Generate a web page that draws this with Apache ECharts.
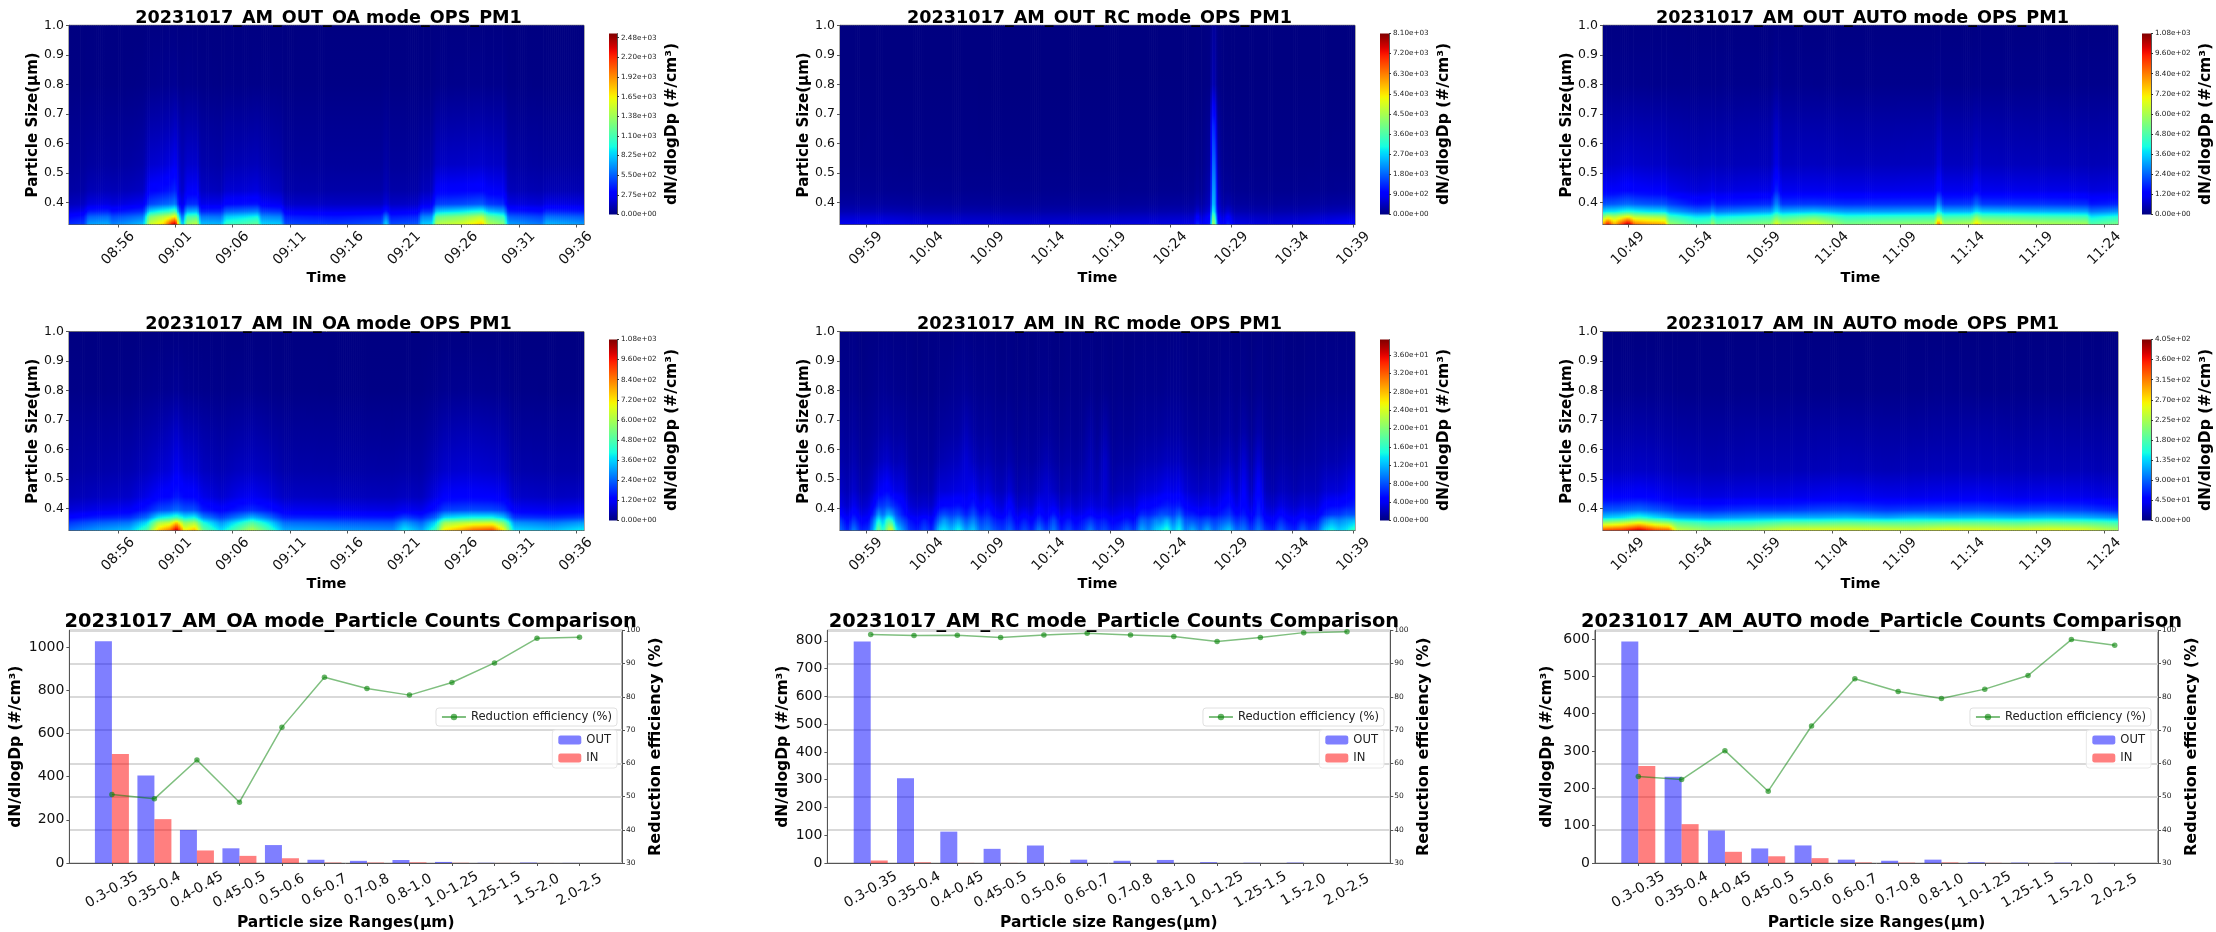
<!DOCTYPE html>
<html><head><meta charset="utf-8">
<style>html,body{margin:0;padding:0;background:#fff}#c{width:2216px;height:932px;filter:blur(0.45px)}</style>
<script src="https://cdn.jsdelivr.net/npm/echarts@6/dist/echarts.min.js"></script>
</head><body><div id="c"></div>
<script>
// ---------- data ----------
const sizes=[0.326,0.352,0.37,0.395,0.44,0.53,0.66,0.8,1.0];
const rcInSizes=[0.326,0.36,0.38,0.41,0.46,0.56,0.66,0.8,1.0];
const sizeTicks=[0.4,0.5,0.6,0.7,0.8,0.9,1.0];
const ranges=['0.3-0.35','0.35-0.4','0.4-0.45','0.45-0.5','0.5-0.6','0.6-0.7','0.7-0.8','0.8-1.0','1.0-1.25','1.25-1.5','1.5-2.0','2.0-2.5'];
const oaTimeTicks=[536,541,546,551,556,561,566,571,576];
const rcTimeTicks=[599,604,609,614,619,624,629,634,639];
const autoTimeTicks=[649,654,659,664,669,674,679,684];
// columns: [minutes past the hour base, value at each entry of sizes]
const oaOutCols=[
[51.7,420,320,220,130,80,55,35,12,4],[53,470,360,250,150,90,60,38,12,4],[53.4,720,560,380,210,120,70,42,15,4],[55.1,750,590,400,220,125,75,45,15,5],[55.5,640,500,340,200,120,70,45,15,5],[57,720,560,390,230,130,80,50,16,5],[58.2,800,620,430,260,150,95,60,20,5],[58.7,1500,1250,850,480,300,170,100,30,8],[60,1750,1450,1000,560,340,190,110,35,8],[60.6,2250,1550,1050,590,370,220,120,40,10],[61,2480,1700,1150,640,420,260,150,45,10],[61.3,1500,1000,620,340,230,170,110,30,8],[61.6,700,520,350,220,150,120,80,25,6],[62,1350,1100,750,420,270,170,100,30,8],[62.9,1500,1150,780,430,280,170,95,25,6],[63.2,800,620,400,240,150,100,65,20,5],[65,780,600,410,240,130,85,55,15,4],[65.4,1050,820,560,320,180,110,70,20,5],[67,1120,880,600,340,190,120,70,20,5],[68.2,1200,950,640,360,210,130,80,22,5],[68.5,850,670,470,280,170,110,70,20,5],[70.2,830,640,440,250,140,90,55,18,5],[70.6,500,390,270,160,95,65,40,14,4],[75,460,360,250,150,90,60,40,15,4],[79,520,400,270,150,90,60,40,15,4],[79.4,900,650,400,210,130,90,55,18,4],[79.8,500,380,260,150,90,60,40,15,4],[82.2,540,410,280,160,90,60,38,14,4],[82.5,820,640,430,240,130,80,48,15,4],[83.4,850,660,440,250,140,85,50,16,4],[83.8,1450,1200,820,470,290,150,90,25,6],[86,1550,1300,900,500,300,160,95,28,6],[87.8,1780,1450,1000,540,320,170,100,30,6],[88.3,1450,1200,820,460,280,160,95,28,6],[89.7,1300,1050,720,420,260,150,90,28,6],[90.1,720,560,380,220,130,85,52,16,4],[93,620,480,330,190,110,70,45,15,4],[93.4,780,600,410,230,120,70,42,14,4],[96.7,700,540,370,210,115,70,42,14,4]];
const rcOutCols=[
[56.87,800,560,360,230,130,75,45,14,5],[60,820,580,380,240,135,80,50,15,5],[64,650,470,310,200,120,75,45,14,5],[68,620,450,300,190,115,70,42,14,5],[72,580,420,280,180,110,70,40,13,5],[76,620,440,290,190,115,70,42,14,5],[80,650,460,300,190,115,72,45,14,5],[84,700,500,330,210,120,75,45,14,5],[85.9,750,520,340,220,130,80,50,20,8],[86.2,1400,1000,600,350,200,120,70,25,12],[86.5,800,560,360,230,130,80,50,20,8],[87.25,1200,1000,700,500,380,250,170,50,25],[87.4,4500,3800,3100,2600,2300,1900,1400,400,180],[87.65,4000,3300,2600,2300,2200,1800,1200,300,200],[87.85,1300,1000,750,600,450,300,200,70,50],[88.3,850,600,400,260,170,110,70,25,12],[88.7,1300,950,600,340,190,110,60,20,8],[89.2,750,520,340,220,130,80,50,16,5],[92,620,450,300,190,115,72,45,14,5],[95,700,500,330,210,120,75,45,14,5],[99.12,950,650,420,260,140,85,50,15,5]];
const autoOutCols=[
[47.16,800,560,360,220,120,65,42,14,4],[47.5,980,640,380,225,120,65,42,14,4],[48,780,600,380,230,120,68,42,14,4],[49,1060,700,420,250,135,75,45,14,4],[49.5,860,620,400,235,125,70,44,14,4],[50.5,820,600,380,225,118,66,42,13,4],[51.7,800,580,370,220,118,66,42,13,4],[52,590,460,320,200,105,58,38,13,4],[54,480,380,250,150,85,50,33,12,3],[55,500,390,260,160,90,52,34,12,3],[55.2,600,440,300,190,100,55,35,12,3],[55.5,500,390,260,160,90,52,34,12,3],[59.5,560,440,300,180,100,55,38,13,3],[59.9,700,520,380,290,180,100,70,22,5],[60.3,590,460,320,190,105,58,40,14,3],[62.7,680,510,340,195,105,60,40,13,3],[65,540,430,300,180,100,55,36,12,3],[68,560,440,300,185,100,55,36,12,3],[71.5,580,450,310,190,105,58,38,12,3],[71.8,880,600,420,300,150,90,55,16,4],[72.2,590,460,320,190,105,58,38,12,3],[74.2,620,470,320,195,105,58,38,12,3],[74.6,760,560,380,250,135,75,46,14,4],[75,640,490,340,195,105,58,38,12,3],[79,610,470,320,190,100,55,35,12,3],[82.7,600,460,310,180,95,52,34,12,3],[83,490,380,260,155,88,50,33,12,3],[85,540,420,290,170,92,52,34,12,3]];
const oaInCols=[
[51.7,250,190,130,85,50,33,22,8,2],[54,300,230,160,100,60,38,25,9,2],[57,340,260,180,115,70,45,28,10,2],[58.5,480,370,250,160,100,60,38,14,3],[59.5,750,600,380,210,125,75,45,16,3],[60.5,850,640,420,225,135,85,55,18,3],[61.1,1040,760,460,250,160,110,70,22,4],[61.8,700,560,380,220,135,85,50,16,3],[62.7,780,600,400,220,130,80,48,14,3],[63.4,520,420,280,160,100,60,38,12,3],[65,370,290,200,125,75,48,30,10,2],[66.5,510,400,270,160,100,60,36,12,2],[67.7,620,490,330,180,110,65,40,13,2],[69.2,470,370,250,150,90,55,32,10,2],[70.5,320,250,170,110,65,40,25,8,2],[76,300,230,160,100,58,36,22,7,2],[80,290,225,155,95,55,35,20,6,2],[81,390,300,200,110,62,38,22,7,2],[82.5,310,240,165,100,58,36,22,7,2],[83.7,460,360,240,150,95,58,34,12,2],[84.5,720,580,360,200,120,72,45,16,3],[86,800,620,390,210,125,78,50,17,3],[87,870,640,400,215,125,78,50,17,3],[88.7,910,650,400,210,120,72,45,15,3],[89.7,700,540,340,190,110,65,40,14,3],[90.6,370,290,190,115,70,42,26,9,2],[94,340,260,175,105,62,38,24,8,2],[96.7,390,300,195,115,65,38,24,8,2]];
const rcInCols=[
[56.87,9,7,5,3.5,2.5,1.5,1,.5,.2],[57.5,6,4.5,3.5,2.5,1.8,1.2,.8,.4,.2],[58,10,7,5.5,4,2.8,1.8,1.2,.6,.3],[58.6,6,4.5,3.5,2.5,1.6,1,.7,.3,.1],[59.2,7,5,4,3,2,1.2,.8,.4,.2],[59.7,13,10,7,5,3,1.6,1,.5,.2],[60,20,15,11,7,4,2,1.2,.6,.2],[60.4,15,12,9,7,4.5,2.4,1.4,.7,.3],[60.8,22,17,12,8,5,2.6,1.5,.6,.3],[61.1,25,16,11,7,4,2,1.2,.6,.2],[61.5,14,10,8,6,3.5,1.8,1.1,.5,.2],[62,11,8,6,5,3.5,2,1.2,.5,.2],[62.6,7,5.5,4,3,2,1.2,.8,.4,.2],[63.2,6,4.5,3.5,2.5,1.6,1,.8,.3,.1],[63.8,8,6,4,2.8,1.8,1.2,.8,.4,.2],[64.4,6,4.5,3.5,2.5,1.6,1,.7,.3,.2],[65,13,9,7,4.5,3,1.6,1,.5,.2],[65.4,14,11,8,5,3,1.8,1.1,.5,.2],[66,12,9,7,5,3.2,2,1.2,.6,.2],[66.6,15,11,8,5.5,3.5,2.2,1.3,.7,.3],[67.2,11,8,6,4.5,3.5,3,2,.8,.3],[67.8,13,10,8,6,4,2.2,1.3,.6,.2],[68.4,9,7,5.5,4,2.8,1.6,1,.5,.2],[69,10,8,6.5,5,3.2,1.8,1.1,.5,.2],[69.6,8,6,4.5,3.5,2.2,1.3,.8,.4,.2],[70.2,7,5.5,4,3,2,1.2,.8,.3,.1],[70.8,9,7,6,5,3,1.6,.9,.4,.2],[71.4,6,4.5,3.5,2.5,1.6,1,.6,.3,.1],[72,8,6,4.5,3,2,1.2,.8,.4,.2],[72.6,6,4.5,3.5,2.6,1.8,1,.7,.3,.1],[73.2,10,7,5.5,4,2.4,1.3,.8,.4,.2],[73.8,7,5,4,3.5,3,1.8,1,.5,.2],[74.4,10,8,6,4,2.4,1.3,.8,.3,.1],[75,6,4.5,3.5,2.5,1.6,1,.6,.3,.1],[75.6,8,6,4.5,3.2,2,1.2,.8,.4,.2],[76.2,6,4.5,3.5,2.5,1.6,1,.6,.3,.1],[76.8,7,5.5,4,3,2.2,1.3,.8,.4,.2],[77.4,10,7,5,3.5,2.4,2,1.4,.5,.2],[78,7,5.5,4,3,2,1.2,.7,.3,.1],[78.6,8,6,4.5,3.2,3,2.6,1.6,.5,.2],[79.2,6,4.5,3.5,2.5,1.6,1,.6,.3,.1],[79.8,7,5,4,3,2,1.2,.8,.4,.2],[80.4,9,6,4.5,3.2,2,1.2,.7,.3,.1],[81,7,5,4,3,2.2,1.3,.8,.4,.2],[81.6,12,9,6.5,4.5,2.8,1.6,1,.5,.2],[82.2,10,8,6,4.5,3,1.7,1,.5,.2],[82.8,13,10,7,5,3.2,1.8,1.1,.5,.2],[83.2,14,10,8,5.5,3.5,1.9,1.1,.5,.2],[83.7,16,12,8,6,4,2.2,1.3,.6,.2],[84.2,12,9,7,5.5,3.6,2,1.2,.6,.2],[84.7,15,12,9,6,4,2.2,1.3,.6,.3],[85.2,10,8,6,4.5,3,1.7,1,.5,.2],[85.8,12,8,6,4,2.6,1.5,.9,.4,.2],[86.4,9,7,5,3.5,2.3,1.3,.8,.4,.2],[87,12,8,5.5,4,2.6,1.5,.9,.4,.2],[87.6,9,7,5,3.5,2.4,1.4,.8,.4,.2],[88.2,11,8,6,4.5,3.2,1.8,1,.5,.2],[88.8,13,9,7,5.5,4,2.2,1.2,.6,.2],[89.4,9,6.5,5,3.5,2.4,1.4,.8,.4,.2],[90,10,7.5,6,5,4.5,3,1.5,.6,.2],[90.6,7,5,4,3,2,1.2,.7,.3,.1],[91.2,10,8,6.5,6,5,3,1.5,.6,.2],[91.8,7,5,4,3,2,1.2,.8,.4,.2],[92.4,6,4.5,3.5,2.5,1.6,1,.6,.3,.1],[93,9,6.5,5,3.5,2.2,1.3,.8,.4,.2],[93.6,7,5,4,3,2,1.2,.7,.3,.1],[94.2,6,4.5,3.5,2.5,1.6,1,.6,.3,.1],[94.8,9,6,4.5,3.2,2,1.2,.7,.3,.1],[95.4,7,5,4,3,2,1.2,.8,.4,.2],[96,8,5.5,4,3,2,1.3,.9,.4,.2],[96.6,13,9,6,4.5,2.8,1.6,1,.5,.2],[97.2,15,11,7,5,3,1.6,1,.5,.2],[97.8,13,10,7,5,3,1.7,1,.5,.2],[98.4,14,11,8,5.5,3.5,2,1.1,.5,.2],[99.12,17,12,8,6,4.5,2.4,1.3,.6,.3]];
const autoInCols=[
[47.16,340,220,130,85,45,24,14,5,1],[48.5,350,235,140,88,45,24,14,5,1],[49.8,385,260,160,95,48,25,15,5,1],[51,340,230,140,85,44,24,14,5,1],[52,330,215,125,78,40,22,13,5,1],[52.6,240,185,115,70,38,20,12,4,1],[55,215,165,105,65,34,18,11,4,1],[58,225,170,115,72,36,19,12,4,1],[60.5,250,185,120,72,36,19,12,4,1],[63,255,185,120,78,40,20,13,4,1],[65,255,190,125,80,42,21,13,4,1],[68,250,185,115,72,38,19,12,4,1],[70,245,185,125,75,38,20,12,4,1],[72.5,260,190,120,78,40,21,13,5,1],[75,255,190,125,80,42,21,14,4,1],[77.5,250,185,120,75,38,20,12,4,1],[80,260,190,125,78,40,20,13,4,1],[82.5,255,185,120,75,38,20,12,4,1],[83.7,240,180,115,70,36,19,12,4,1],[85,225,170,108,62,32,18,11,4,1]];
const oaOut=[1026,405,153,68,83,15,10,14,5,1,2,0.5];
const oaIn=[505,203,58,33,22,2,2,3,1,0.3,0.2,0.1];
const oaEff=[50.6,49.3,61,48.3,70.8,85.9,82.5,80.5,84.3,90.2,97.6,97.9];
const rcOut=[798,305,113,51,63,12,8,11,3,1,1.5,0.3];
const rcIn=[9,2.5,0.5,0.4,0.3,0.1,0.1,0.1,0.1,0,0,0];
const rcEff=[98.7,98.4,98.5,97.8,98.6,99.1,98.6,98.1,96.6,97.8,99.3,99.6];
const autoOut=[593,231,87,39,47,9,6,9,2,1,1,0.3];
const autoIn=[260,104,30,18,13,1.5,1,1.5,0.4,0.1,0,0];
const autoEff=[56,55.1,63.8,51.6,71.2,85.4,81.6,79.5,82.3,86.4,97.2,95.5];
const oaOutBar=[0,275,550,825,1100,1375,1650,1925,2200,2475];
const rcOutBar=[0,900,1800,2700,3600,4500,5400,6300,7200,8100];
const autoOutBar=[0,120,240,360,480,600,720,840,960,1080];
const oaInBar=[0,120,240,360,480,600,720,840,960,1080];
const rcInBar=[0,4,8,12,16,20,24,28,32,36];
const autoInBar=[0,45,90,135,180,225,270,315,360,405];

// ---------- layout ----------
const FONT="'DejaVu Sans',sans-serif";
const AX='#555';
function jet(f){f=Math.max(0,Math.min(1,f));
 const p=(pts)=>{for(let i=1;i<pts.length;i++){if(f<=pts[i][0]){const a=pts[i-1],b=pts[i];return a[1]+(b[1]-a[1])*(f-a[0])/(b[0]-a[0]);}}return pts[pts.length-1][1];};
 const r=p([[0,0],[.35,0],[.66,1],[.89,1],[1,.5]]),g=p([[0,0],[.125,0],[.375,1],[.64,1],[.91,0],[1,0]]),b=p([[0,.5],[.11,1],[.34,1],[.65,0],[1,0]]);
 return 'rgb('+Math.round(r*255)+','+Math.round(g*255)+','+Math.round(b*255)+')';}
function fmtE(v){ if(v===0) return '0.00e+00';
 const e=Math.floor(Math.log10(v)+1e-9); const scaled=v/Math.pow(10,e-2);
 let m=Math.floor(scaled+1e-9); const d=scaled-m;
 if(Math.abs(d-.5)<1e-6){ if(m%2) m+=1; } else if(d>.5) m+=1;
 return (m/100).toFixed(2)+'e+'+String(e).padStart(2,'0');}
function fmtT(m){const h=Math.floor(m/60),n=Math.round(m-h*60);return String(h).padStart(2,'0')+':'+String(n).padStart(2,'0');}
const opt={animation:false,backgroundColor:'#fff',title:[],grid:[],xAxis:[],yAxis:[],series:[],legend:[],textStyle:{fontFamily:FONT}};

function heatRender(cols,cmax,sz){return function(params,api){
 const i=params.dataIndex; if(i>=cols.length-1) return null;
 const a=cols[i],b=cols[i+1];
 const x0=api.coord([a[0],sz[0]])[0],x1=api.coord([b[0],sz[0]])[0];
 const yB=api.coord([a[0],sz[0]])[1],yT=api.coord([a[0],1])[1];
 const n=Math.max(1,Math.ceil((x1-x0)/2)),kids=[];
 for(let s=0;s<n;s++){const u=(s+.5)/n,stops=[];
  for(let r=sz.length-1;r>=1;r--){
   const top=a[r+1]+(b[r+1]-a[r+1])*u,bot=a[r]+(b[r]-a[r])*u;
   const yt=api.coord([a[0],sz[r]])[1],yb=api.coord([a[0],sz[r-1]])[1];
   const sub=4;
   for(let k=0;k<sub;k++){const w=k/sub;stops.push({offset:(yt+(yb-yt)*w-yT)/(yB-yT),color:jet((top+(bot-top)*w)/cmax)});}
  }
  stops.push({offset:1,color:jet((a[1]+(b[1]-a[1])*u)/cmax)});
  kids.push({type:'rect',shape:{x:x0+(x1-x0)*s/n,y:yT,width:(x1-x0)/n+.7,height:yB-yT},
   style:{fill:new echarts.graphic.LinearGradient(0,0,0,1,stops)},silent:true});
 }
 return {type:'group',children:kids};
};}
function barRender(params,api){
 const p0=api.coord([0,api.value(1)]),p1=api.coord([1,0]),stops=[];
 for(let k=0;k<=40;k++)stops.push({offset:k/40,color:jet(1-k/40)});
 return {type:'rect',shape:{x:p0[0],y:p0[1],width:p1[0]-p0[0],height:p1[1]-p0[1]},
  style:{fill:new echarts.graphic.LinearGradient(0,0,0,1,stops)},silent:true};
}
function addTitle(text,cx,cy,size){opt.title.push({text,left:cx,top:cy,textAlign:'center',textVerticalAlign:'middle',
 textStyle:{fontFamily:FONT,fontWeight:'bold',fontSize:size,color:'#000'}});}
function addHeat(o){
 const g=opt.grid.length, sz=o.sz||sizes;
 opt.grid.push({left:o.x0,top:o.y0,width:o.x1-o.x0,height:o.y1-o.y0,show:true,borderColor:AX,borderWidth:1,backgroundColor:'transparent'});
 opt.xAxis.push({gridIndex:g,type:'value',min:o.tmin,max:o.tmax,splitLine:{show:false},
  axisLine:{show:true,onZero:false,lineStyle:{color:AX}},axisTick:{show:true,length:3,lineStyle:{color:AX},customValues:o.ticks},
  axisLabel:{customValues:o.ticks,formatter:fmtT,rotate:45,align:'center',verticalAlign:'middle',margin:24,fontSize:14,color:'#111',fontFamily:FONT,hideOverlap:false},
  name:'Time',nameLocation:'middle',nameGap:44,nameTextStyle:{fontSize:14.5,fontWeight:'bold',color:'#000',fontFamily:FONT}});
 opt.yAxis.push({gridIndex:g,type:'value',min:sz[0],max:1,splitLine:{show:false},
  axisLine:{show:true,onZero:false,lineStyle:{color:AX}},axisTick:{show:true,length:3,lineStyle:{color:AX},customValues:sizeTicks},
  axisLabel:{customValues:sizeTicks,formatter:v=>v.toFixed(1),fontSize:12.5,margin:5,color:'#111',fontFamily:FONT},
  name:'Particle Size(µm)',nameLocation:'middle',nameGap:27,nameRotate:90,nameTextStyle:{fontSize:15,fontWeight:'bold',color:'#000',fontFamily:FONT}});
 const colsAbs=o.cols.map(c=>[c[0]+o.base].concat(c.slice(1)));
 opt.series.push({type:'custom',name:o.title,xAxisIndex:g,yAxisIndex:g,coordinateSystem:'cartesian2d',clip:true,silent:true,
  encode:{x:0,y:1},data:colsAbs,renderItem:heatRender(colsAbs,o.cmax,sz)});
 addTitle(o.title,(o.x0+o.x1)/2-3,o.y0-12,17.6);
 // colour bar
 const h=opt.grid.length;
 opt.grid.push({left:o.bx0,top:o.by0,width:o.bx1-o.bx0,height:o.by1-o.by0,show:false});
 opt.xAxis.push({gridIndex:h,type:'value',min:0,max:1,show:false});
 opt.yAxis.push({gridIndex:h,type:'value',position:'right',min:0,max:o.cmax,splitLine:{show:false},
  axisLine:{show:true,onZero:false,lineStyle:{color:AX,width:1}},axisTick:{show:true,length:2,lineStyle:{color:'#333'},customValues:o.bar},
  axisLabel:{customValues:o.bar,formatter:fmtE,fontSize:7.2,margin:4,color:'#222',fontFamily:FONT},
  name:'dN/dlogDp (#/cm³)',nameLocation:'middle',nameRotate:90,nameGap:47,nameTextStyle:{fontSize:15.5,fontWeight:'bold',color:'#000',fontFamily:FONT}});
 opt.series.push({type:'custom',xAxisIndex:h,yAxisIndex:h,silent:true,encode:{x:0,y:1},data:[[0,o.cmax]],renderItem:barRender});
}
const X_IDX=ranges.map((_,i)=>i);
function addBars(o){
 const g=opt.grid.length;
 opt.grid.push({left:o.x0,top:630.3,width:o.x1-o.x0,height:234.4,show:true,borderColor:AX,borderWidth:1,backgroundColor:'transparent'});
 opt.xAxis.push({gridIndex:g,type:'value',min:-1,max:12,splitLine:{show:false},
  axisLine:{show:true,onZero:false,lineStyle:{color:AX}},axisTick:{show:true,length:3,lineStyle:{color:AX},customValues:X_IDX},
  axisLabel:{customValues:X_IDX,formatter:v=>ranges[v],rotate:30,align:'center',verticalAlign:'middle',margin:27,fontSize:14,color:'#111',fontFamily:FONT,hideOverlap:false},
  name:'Particle size Ranges(µm)',nameLocation:'middle',nameGap:52,nameTextStyle:{fontSize:15.5,fontWeight:'bold',color:'#000',fontFamily:FONT}});
 const yL=opt.yAxis.length;
 opt.yAxis.push({gridIndex:g,type:'value',min:0,max:o.ymax,interval:o.step,splitLine:{show:false},
  axisLine:{show:true,onZero:false,lineStyle:{color:AX}},axisTick:{show:true,length:3,lineStyle:{color:AX}},
  axisLabel:{fontSize:14,margin:5,color:'#111',fontFamily:FONT,showMaxLabel:false,formatter:v=>String(v)},
  name:'dN/dlogDp (#/cm³)',nameLocation:'middle',nameRotate:90,nameGap:o.gapL,nameTextStyle:{fontSize:15.5,fontWeight:'bold',color:'#000',fontFamily:FONT}});
 opt.yAxis.push({gridIndex:g,type:'value',position:'right',min:30,max:100,interval:10,
  splitLine:{show:true,lineStyle:{color:'#d9d9d9',width:2}},
  axisLine:{show:true,onZero:false,lineStyle:{color:AX}},axisTick:{show:true,length:3,lineStyle:{color:AX}},
  axisLabel:{fontSize:7.5,margin:4,color:'#222',fontFamily:FONT},
  name:'Reduction efficiency (%)',nameLocation:'middle',nameRotate:90,nameGap:26,nameTextStyle:{fontSize:16,fontWeight:'bold',color:'#000',fontFamily:FONT}});
 const pts=a=>a.map((v,i)=>[i,v]);
 opt.series.push({type:'bar',name:'OUT',xAxisIndex:g,yAxisIndex:yL,barWidth:17,barGap:'0%',itemStyle:{color:'rgba(0,0,255,0.5)'},data:pts(o.out),z:3});
 opt.series.push({type:'bar',name:'IN',xAxisIndex:g,yAxisIndex:yL,barWidth:17,barGap:'0%',itemStyle:{color:'rgba(255,0,0,0.5)'},data:pts(o.in),z:3});
 opt.series.push({type:'line',name:'Reduction efficiency (%)',xAxisIndex:g,yAxisIndex:yL+1,smooth:false,symbol:'circle',symbolSize:5.5,
  lineStyle:{color:'rgba(0,128,0,0.5)',width:1.5},itemStyle:{color:'rgba(0,128,0,0.6)'},data:pts(o.eff),z:4});
 addTitle(o.title,(o.x0+o.x1)/2,617,19.4);
 opt.legend.push({data:['Reduction efficiency (%)'],right:2216-o.lx1,top:708,itemWidth:24,itemHeight:8,itemGap:4,padding:[3,5],
  backgroundColor:'rgba(255,255,255,0.8)',borderColor:'#e0e0e0',borderWidth:1,borderRadius:3,textStyle:{fontSize:11.6,color:'#222',fontFamily:FONT},selectedMode:false});
 opt.legend.push({data:['OUT','IN'],orient:'vertical',right:2216-o.lx1,top:730,itemWidth:23,itemHeight:9,itemGap:6,padding:[4,6],
  backgroundColor:'rgba(255,255,255,0.8)',borderColor:'#e8e8e8',borderWidth:1,borderRadius:3,textStyle:{fontSize:11.6,color:'#222',fontFamily:FONT},selectedMode:false});
}
const C=[{x0:69,x1:584,bx0:609,bx1:617,tmin:531.7,tmax:576.7,base:480,ticks:oaTimeTicks},
 {x0:840,x1:1355,bx0:1380,bx1:1389,tmin:596.87,tmax:639.12,base:540,ticks:rcTimeTicks},
 {x0:1603,x1:2118,bx0:2142,bx1:2151,tmin:647.16,tmax:685,base:600,ticks:autoTimeTicks}];
const R=[{y0:25.3,y1:224.5,by0:33.5,by1:214.5},{y0:331.7,y1:530.5,by0:339.5,by1:520.5}];
function heat(c,r,title,cols,cmax,bar,sz){addHeat(Object.assign({},C[c],R[r],{title,cols,cmax,bar,sz}));}
heat(0,0,'20231017_AM_OUT_OA mode_OPS_PM1',oaOutCols,2534,oaOutBar);
heat(1,0,'20231017_AM_OUT_RC mode_OPS_PM1',rcOutCols,8100,rcOutBar);
heat(2,0,'20231017_AM_OUT_AUTO mode_OPS_PM1',autoOutCols,1080,autoOutBar);
heat(0,1,'20231017_AM_IN_OA mode_OPS_PM1',oaInCols,1080,oaInBar);
heat(1,1,'20231017_AM_IN_RC mode_OPS_PM1',rcInCols,39.4,rcInBar,rcInSizes);
heat(2,1,'20231017_AM_IN_AUTO mode_OPS_PM1',autoInCols,405,autoInBar);
addBars({x0:69.4,x1:622,ymax:1077,step:200,gapL:45,lx1:617,out:oaOut,in:oaIn,eff:oaEff,title:'20231017_AM_OA mode_Particle Counts Comparison'});
addBars({x0:827.4,x1:1390.3,ymax:838,step:100,gapL:36,lx1:1384,out:rcOut,in:rcIn,eff:rcEff,title:'20231017_AM_RC mode_Particle Counts Comparison'});
addBars({x0:1595,x1:2158,ymax:623,step:100,gapL:40,lx1:2151,out:autoOut,in:autoIn,eff:autoEff,title:'20231017_AM_AUTO mode_Particle Counts Comparison'});
echarts.init(document.getElementById('c'),null,{renderer:'canvas'}).setOption(opt);
</script></body></html>
